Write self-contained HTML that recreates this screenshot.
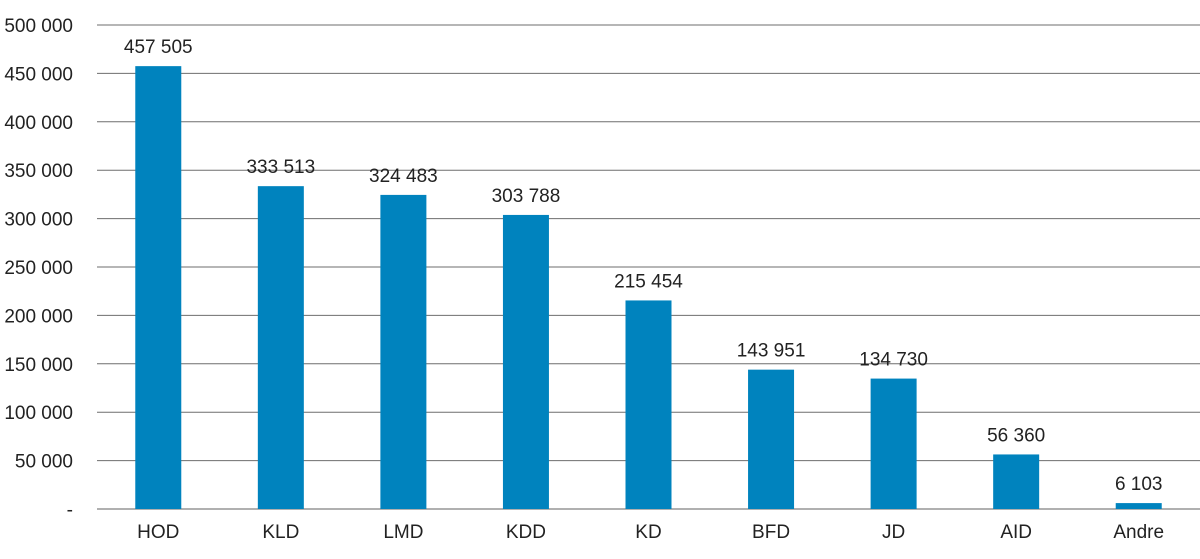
<!DOCTYPE html>
<html><head><meta charset="utf-8"><style>
body{margin:0;background:#fff;width:1200px;height:559px;overflow:hidden}
svg{display:block;font-family:"Liberation Sans",sans-serif}
</style></head><body>
<svg id="chart" width="1200" height="559" viewBox="0 0 1200 559"></svg>
<script>
const categories=["HOD","KLD","LMD","KDD","KD","BFD","JD","AID","Andre"];
const values=[457505,333513,324483,303788,215454,143951,134730,56360,6103];
const valueLabels=["457 505","333 513","324 483","303 788","215 454","143 951","134 730","56 360","6 103"];
const ticks=[0,50000,100000,150000,200000,250000,300000,350000,400000,450000,500000];
const tickLabels=["-","50 000","100 000","150 000","200 000","250 000","300 000","350 000","400 000","450 000","500 000"];
const NS="http://www.w3.org/2000/svg";
const svg=document.getElementById('chart');
const x0=97,x1=1200,y0=509,yTop=25,yMax=500000;
const y=v=>y0-(v/yMax)*(y0-yTop);
const band=(x1-x0)/categories.length;
const xc=i=>x0+band*(i+0.5);
function mk(t,a){const e=document.createElementNS(NS,t);for(const k in a)e.setAttribute(k,a[k]);svg.appendChild(e);return e;}
ticks.forEach((t,i)=>{
 const l=mk('line',{x1:x0,x2:x1,y1:y(t),y2:y(t),stroke:i==0?'#b0b0b0':'#6e6e6e','stroke-width':i==0?2:1});
 
 
 const tx=mk('text',{x:73,y:y(t)+7,'text-anchor':'end','font-size':19,fill:'#222'});
 tx.textContent=tickLabels[i];
 
 
});
const bw=46;
categories.forEach((c,i)=>{
 const r=mk('rect',{x:xc(i)-bw/2,y:y(values[i]),width:bw,height:y0-y(values[i]),fill:'#0083be'});
 
 
 const v=mk('text',{x:xc(i),y:y(values[i])-13,'text-anchor':'middle','font-size':19,fill:'#222'});
 v.textContent=valueLabels[i];
 
 
 const cl=mk('text',{x:xc(i),y:538,'text-anchor':'middle','font-size':19,fill:'#222'});
 cl.textContent=c;
 
 
});
</script>
</body></html>
